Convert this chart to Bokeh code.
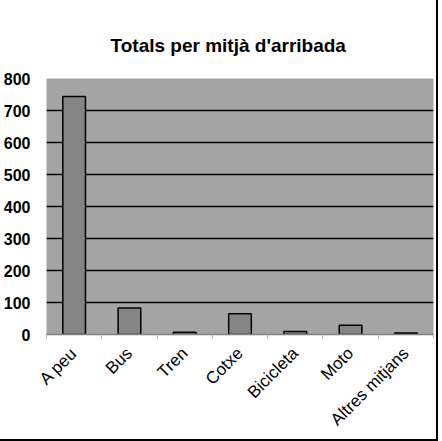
import numpy as np
from bokeh.plotting import figure
from bokeh.models import FixedTicker, Range1d, ColumnDataSource
from bokeh.embed import file_html
from bokeh.resources import INLINE

categories = ["A peu", "Bus", "Tren", "Cotxe", "Bicicleta", "Moto", "Altres mitjans"]
totals = [744, 83, 7, 65, 9, 29, 5]
y_ticks = [0, 100, 200, 300, 400, 500, 600, 700, 800]
title_text = "Totals per mitjà d'arribada"

xs = np.arange(len(categories)) + 0.5
src = ColumnDataSource(dict(x=xs, top=totals, cat=categories))

p = figure(frame_width=387, frame_height=256,
           x_range=Range1d(0, len(categories)), y_range=Range1d(0, 800),
           output_backend="svg", toolbar_location=None,
           min_border_left=40, min_border_right=3, min_border_top=78, min_border_bottom=100,
           background_fill_color="#a4a4a4", border_fill_color="white")
p.styles = {"outline": "2px solid black"}

p.title.text = title_text
p.title.text_font = "Liberation Sans"
p.title.text_font_size = "19px"
p.title.text_font_style = "bold"
p.title.text_color = "black"
p.title.align = "left"
p.title.offset = 64
p.title.vertical_align = "top"
p.title.standoff = 41

p.vbar(x="x", top="top", width=0.41, source=src, fill_color="#858585",
       line_color="black", line_width=1.5)

p.outline_line_color = None
p.xgrid.grid_line_color = None
p.ygrid.grid_line_color = "black"
p.ygrid.grid_line_width = 1.5
p.ygrid.ticker = FixedTicker(ticks=y_ticks)

p.yaxis.ticker = FixedTicker(ticks=y_ticks)
p.yaxis.axis_line_color = None
p.yaxis.major_tick_line_color = None
p.yaxis.minor_tick_line_color = None
p.yaxis.major_label_text_font = "Liberation Sans"
p.yaxis.major_label_text_font_size = "16px"
p.yaxis.major_label_text_font_style = "bold"
p.yaxis.major_label_text_color = "black"
p.yaxis.major_label_standoff = 10

p.xaxis.ticker = FixedTicker(ticks=list(xs), minor_ticks=list(range(len(categories) + 1)))
p.xaxis.major_label_overrides = {float(x): c for x, c in zip(xs, categories)}
p.xaxis.major_label_orientation = np.pi / 4
p.xaxis.major_label_text_font = "Liberation Sans"
p.xaxis.major_label_text_font_size = "17px"
p.xaxis.major_label_text_color = "black"
p.xaxis.major_label_standoff = 10
p.xaxis.major_tick_line_color = None
p.xaxis.axis_line_color = "#808080"
p.xaxis.axis_line_width = 1.5
p.xaxis.minor_tick_line_color = "#b0b0b0"
p.xaxis.minor_tick_in = 0
p.xaxis.minor_tick_out = 4

open("out.html", "w").write(file_html(p, INLINE))
